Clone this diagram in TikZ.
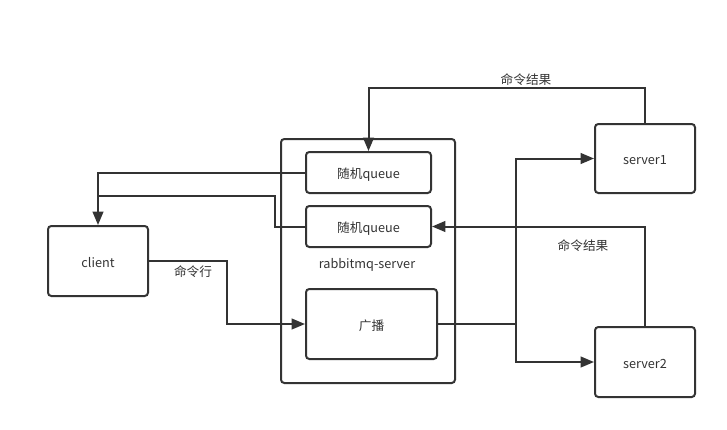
\documentclass[tikz,border=0pt]{standalone}
\usepackage{fontspec}
\setmainfont{Noto Sans CJK SC}
\usetikzlibrary{arrows.meta}
\definecolor{ink}{HTML}{333333}
\tikzset{
  box/.style={draw=ink, line width=1.5pt, rounded corners=2.5pt, inner sep=0pt, text=ink, text height=9.5pt, text depth=0pt, font=\fontsize{9.5pt}{11pt}\selectfont},
  lbl/.style={text=ink, inner sep=0pt, text height=9.5pt, text depth=0pt, font=\fontsize{9.5pt}{11pt}\selectfont},
  link/.style={draw=ink, line width=1.5pt},
  arr/.style={link, -{Triangle[length=10pt,width=8pt]}},
}
\begin{document}
\begin{tikzpicture}[x=0.75pt,y=-0.75pt]
\useasboundingbox (0,0) rectangle (727,429);
\node[box, minimum width=174*0.75pt, minimum height=244*0.75pt] (outer) at (368,261) {};
\node[lbl] (outerlbl) at (367,262) {rabbitmq-server};
\node[box, minimum width=125*0.75pt, minimum height=41*0.75pt] (queue1) at (368.5,172.5) {随机queue};
\node[box, minimum width=125*0.75pt, minimum height=41*0.75pt] (queue2) at (368.5,226.5) {随机queue};
\node[box, minimum width=131*0.75pt, minimum height=70*0.75pt] (bcast) at (371.5,324) {广播};
\node[box, minimum width=100*0.75pt, minimum height=70*0.75pt] (client) at (98,261) {client};
\node[box, minimum width=100*0.75pt, minimum height=69*0.75pt] (server1) at (645,158.5) {server1};
\node[box, minimum width=100*0.75pt, minimum height=70*0.75pt] (server2) at (645,362) {server2};
\coordinate (split) at (516,324);
% server1 result to queue1
\draw[arr] (server1.north) -- (server1.north |- 0,88) -| (queue1.north);
\node[lbl] (res1) at (526,78) {命令结果};
% queue1 to client
\draw[arr] (queue1.west) -| (client.north);
% queue2 to client (joins)
\draw[link] (queue2.west) -- ++(-30,0) |- (client.north |- 0,196);
% client to broadcast
\draw[arr] (client.east) -- (227,261) |- (bcast.west);
\node[lbl] (cmd) at (193,270) {命令行};
% broadcast to servers
\draw[link] (bcast.east) -- (split);
\draw[arr] (split) |- (server1.west);
\draw[arr] (split) |- (server2.west);
% server2 result to queue2
\draw[arr] (server2.north) |- (queue2.east);
\node[lbl] (res2) at (583,244) {命令结果};
\end{tikzpicture}
\end{document}
